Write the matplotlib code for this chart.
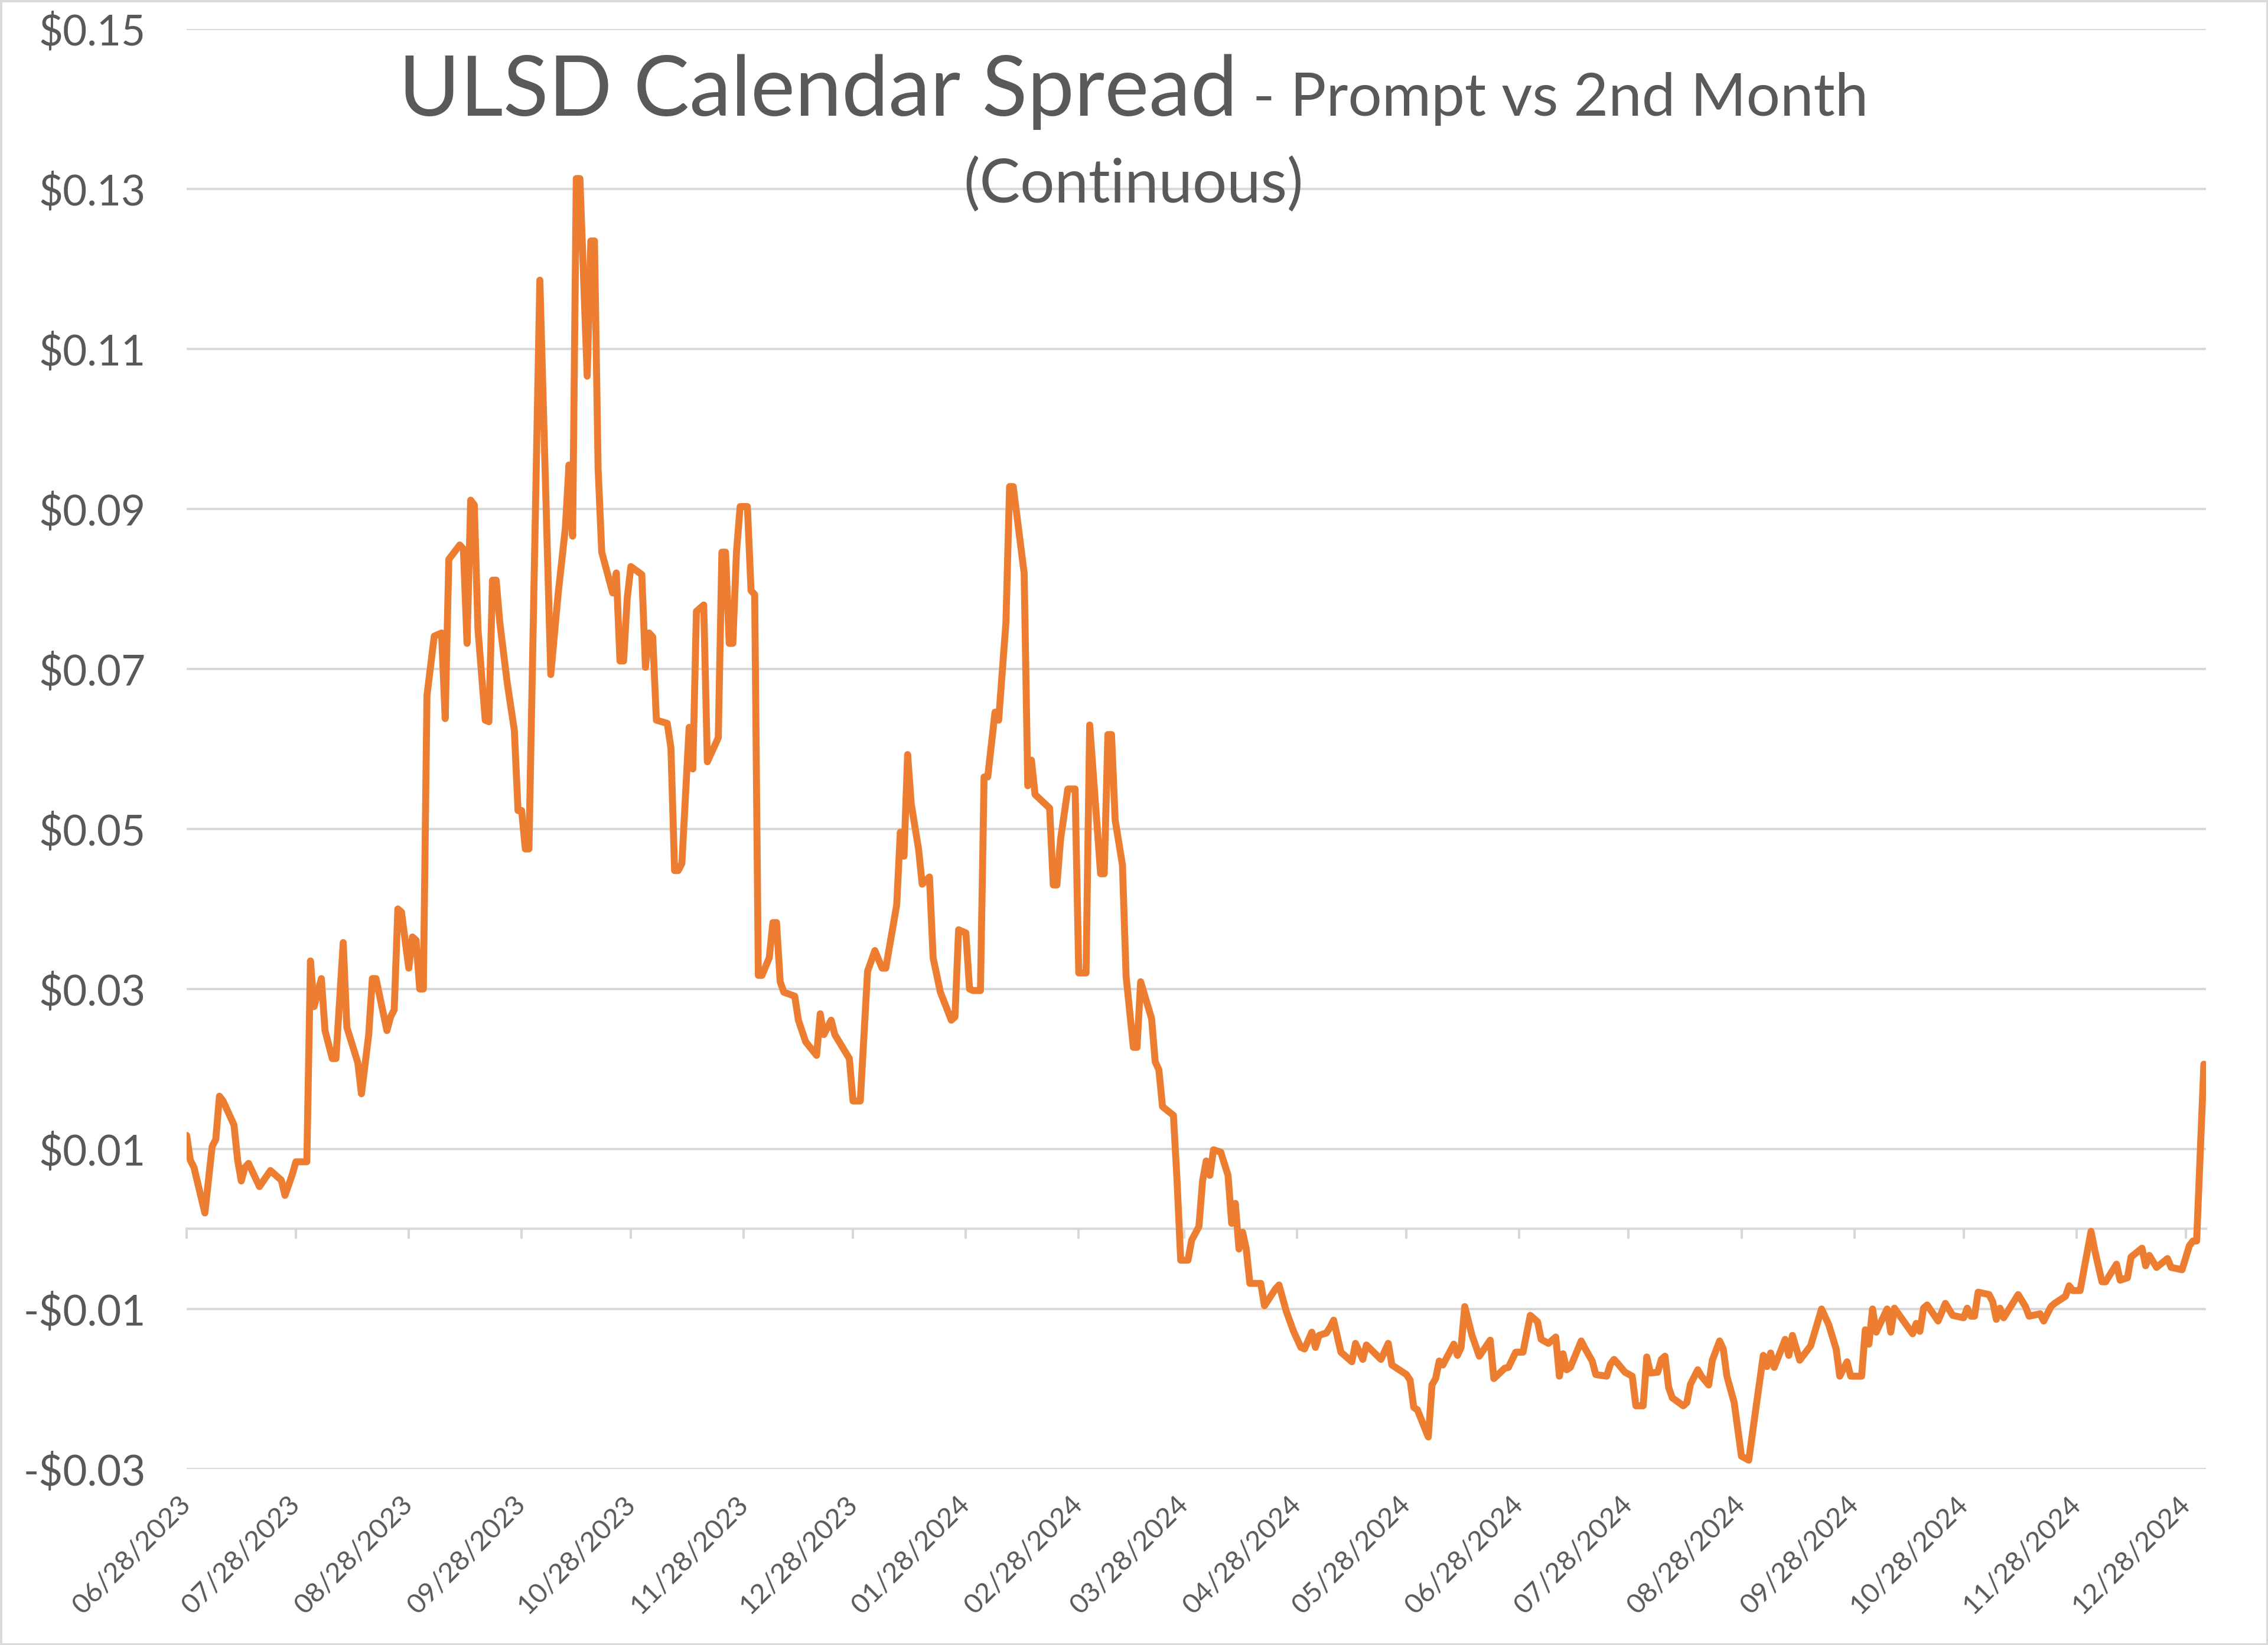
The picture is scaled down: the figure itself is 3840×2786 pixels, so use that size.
import numpy as np
import pandas as pd
import matplotlib
matplotlib.use("Agg")
import matplotlib.pyplot as plt
import matplotlib.dates as mdates
from matplotlib.ticker import FuncFormatter

plt.rcParams['font.family'] = ['Lato', 'DejaVu Sans']

# days after 06/28/2023
day_offset = [
    0, 1, 2, 5, 7, 8, 9, 10, 13, 14,
    15, 16, 17, 20, 23, 26, 27, 29, 30, 33,
    34, 35, 37, 38, 40, 41, 43, 44, 47, 48,
    50, 51, 52, 55, 56, 57, 58, 59, 61, 62,
    63, 64, 65, 66, 68, 70, 71, 72, 75, 76,
    77, 78, 79, 80, 82, 83, 84, 85, 86, 88,
    90, 91, 92, 93, 94, 97, 100, 102, 104, 105,
    106, 107, 108, 110, 111, 112, 113, 114, 117, 118,
    119, 120, 121, 122, 125, 126, 127, 128, 129, 132,
    133, 134, 135, 136, 138, 139, 140, 142, 143, 146,
    147, 148, 149, 150, 151, 152, 154, 155, 156, 157,
    158, 160, 161, 162, 163, 164, 167, 168, 170, 173,
    174, 175, 177, 178, 182, 183, 185, 187, 189, 191,
    192, 195, 196, 197, 198, 199, 201, 202, 204, 205,
    207, 210, 211, 212, 214, 215, 216, 218, 219, 220,
    222, 223, 225, 226, 227, 230, 231, 232, 233, 237,
    238, 239, 240, 242, 244, 245, 247, 248, 251, 252,
    253, 254, 255, 257, 258, 260, 261, 262, 265, 266,
    267, 268, 271, 272, 273, 275, 276, 278, 279, 280,
    281, 282, 284, 286, 287, 288, 289, 290, 291, 292,
    295, 296, 299, 300, 302, 304, 306, 307, 309, 310,
    311, 313, 314, 315, 317, 320, 321, 323, 324, 328,
    330, 331, 335, 336, 337, 338, 341, 342, 343, 344,
    345, 348, 349, 350, 351, 353, 355, 358, 359, 362,
    363, 365, 367, 369, 371, 372, 374, 376, 377, 378,
    379, 380, 383, 384, 386, 387, 390, 391, 392, 393,
    395, 397, 398, 400, 401, 402, 404, 405, 406, 407,
    408, 411, 412, 413, 415, 416, 418, 419, 421, 422,
    423, 425, 427, 429, 431, 433, 434, 435, 436, 439,
    440, 441, 443, 446, 449, 451, 453, 454, 456, 457,
    460, 461, 462, 463, 464, 467, 468, 469, 474, 475,
    476, 477, 478, 481, 483, 485, 488, 489, 490, 491,
    492, 495, 496, 497, 498, 499, 503, 505, 506, 509,
    510, 512, 513, 516, 517, 518, 520, 523, 524, 526,
    527, 530, 531, 533, 534, 537, 538, 539, 541, 544,
    545, 548, 550, 551, 552, 554,
]

spread = [
    0.0117, 0.0086, 0.0077, 0.0020, 0.0103, 0.0112, 0.0166, 0.0160, 0.0130, 0.0086,
    0.0060, 0.0077, 0.0082, 0.0053, 0.0073, 0.0061, 0.0042, 0.0068, 0.0084, 0.0084,
    0.0335, 0.0278, 0.0313, 0.0248, 0.0213, 0.0213, 0.0358, 0.0252, 0.0208, 0.0169,
    0.0243, 0.0313, 0.0313, 0.0248, 0.0265, 0.0274, 0.0400, 0.0396, 0.0326, 0.0365,
    0.0361, 0.0300, 0.0300, 0.0667, 0.0741, 0.0745, 0.0638, 0.0837, 0.0855, 0.0850,
    0.0732, 0.0911, 0.0905, 0.0750, 0.0636, 0.0634, 0.0811, 0.0811, 0.0758, 0.0684,
    0.0623, 0.0523, 0.0523, 0.0475, 0.0475, 0.1186, 0.0693, 0.0793, 0.0876, 0.0955,
    0.0866, 0.1313, 0.1313, 0.1066, 0.1235, 0.1235, 0.0950, 0.0846, 0.0795, 0.0820,
    0.0710, 0.0710, 0.0789, 0.0828, 0.0818, 0.0702, 0.0745, 0.0740, 0.0636, 0.0632,
    0.0601, 0.0448, 0.0448, 0.0457, 0.0627, 0.0575, 0.0772, 0.0780, 0.0584, 0.0614,
    0.0846, 0.0846, 0.0732, 0.0732, 0.0846, 0.0903, 0.0903, 0.0798, 0.0793, 0.0317,
    0.0317, 0.0339, 0.0383, 0.0383, 0.0309, 0.0296, 0.0291, 0.0261, 0.0234, 0.0217,
    0.0269, 0.0243, 0.0261, 0.0243, 0.0213, 0.0160, 0.0160, 0.0322, 0.0348, 0.0326,
    0.0326, 0.0405, 0.0496, 0.0466, 0.0593, 0.0531, 0.0475, 0.0431, 0.0440, 0.0339,
    0.0296, 0.0261, 0.0265, 0.0374, 0.0370, 0.0300, 0.0298, 0.0298, 0.0565, 0.0565,
    0.0646, 0.0636, 0.0758, 0.0928, 0.0928, 0.0820, 0.0554, 0.0586, 0.0543, 0.0526,
    0.0430, 0.0430, 0.0487, 0.0550, 0.0550, 0.0320, 0.0320, 0.0630, 0.0444, 0.0444,
    0.0618, 0.0618, 0.0511, 0.0455, 0.0316, 0.0227, 0.0227, 0.0309, 0.0263, 0.0209,
    0.0199, 0.0153, 0.0142, 0.0060, -0.0039, -0.0039, -0.0014, 0.0003, 0.0060, 0.0085,
    0.0067, 0.0099, 0.0096, 0.0067, 0.0007, 0.0032, -0.0025, -0.0004, -0.0025, -0.0068,
    -0.0068, -0.0096, -0.0075, -0.0070, -0.0103, -0.0128, -0.0148, -0.0150, -0.0129, -0.0148,
    -0.0133, -0.0130, -0.0123, -0.0114, -0.0154, -0.0166, -0.0143, -0.0163, -0.0145, -0.0163,
    -0.0143, -0.0170, -0.0182, -0.0189, -0.0223, -0.0226, -0.0260, -0.0195, -0.0187, -0.0165,
    -0.0170, -0.0144, -0.0158, -0.0148, -0.0097, -0.0133, -0.0159, -0.0139, -0.0187, -0.0174,
    -0.0173, -0.0154, -0.0154, -0.0108, -0.0116, -0.0138, -0.0143, -0.0135, -0.0184, -0.0156,
    -0.0176, -0.0173, -0.0140, -0.0149, -0.0165, -0.0182, -0.0184, -0.0169, -0.0163, -0.0168,
    -0.0179, -0.0184, -0.0221, -0.0221, -0.0160, -0.0180, -0.0179, -0.0163, -0.0159, -0.0198,
    -0.0211, -0.0221, -0.0217, -0.0194, -0.0176, -0.0184, -0.0195, -0.0164, -0.0140, -0.0150,
    -0.0184, -0.0217, -0.0284, -0.0289, -0.0223, -0.0158, -0.0172, -0.0155, -0.0173, -0.0138,
    -0.0158, -0.0133, -0.0164, -0.0146, -0.0100, -0.0120, -0.0150, -0.0184, -0.0166, -0.0184,
    -0.0184, -0.0126, -0.0144, -0.0100, -0.0129, -0.0100, -0.0129, -0.0099, -0.0131, -0.0118,
    -0.0128, -0.0099, -0.0095, -0.0115, -0.0093, -0.0108, -0.0111, -0.0099, -0.0109, -0.0109,
    -0.0079, -0.0082, -0.0091, -0.0113, -0.0099, -0.0111, -0.0082, -0.0097, -0.0109, -0.0106,
    -0.0115, -0.0097, -0.0093, -0.0084, -0.0071, -0.0077, -0.0077, -0.0003, -0.0026, -0.0066,
    -0.0066, -0.0044, -0.0064, -0.0061, -0.0035, -0.0024, -0.0046, -0.0033, -0.0048, -0.0037,
    -0.0048, -0.0051, -0.0021, -0.0015, -0.0015, 0.0206,
]

y_ticks = [-0.03, -0.01, 0.01, 0.03, 0.05, 0.07, 0.09, 0.11, 0.13, 0.15]
tick_dates = pd.date_range('2023-06-28', '2024-12-28', freq=pd.DateOffset(months=1))

assert len(day_offset) == len(spread)

start = pd.Timestamp('2023-06-28')
dates = start + pd.to_timedelta(day_offset, unit='D')
x = mdates.date2num(dates.to_pydatetime())
tick_x = mdates.date2num(tick_dates.to_pydatetime())

grey = '#D9D9D9'
text_col = '#595959'

fig = plt.figure(figsize=(38.4, 27.86), dpi=100)
fig.patch.set_edgecolor(grey)
fig.patch.set_linewidth(5)
ax = fig.add_axes([0.0823, 0.107, 0.8904, 0.8754])

ax.plot(x, spread, color='#ED7D31', lw=8.5, solid_joinstyle='round',
        solid_capstyle='round', zorder=3)

ax.set_ylim(-0.03, 0.15)
ax.set_xlim(x[0], x[-1] + 0.6)
ax.set_yticks(y_ticks)
ax.yaxis.set_major_formatter(FuncFormatter(
    lambda v, p: f"-${abs(v):.2f}" if v < 0 else f"${v:.2f}"))
ax.yaxis.grid(True, color=grey, lw=2.9)
ax.set_axisbelow(True)

for s in ['left', 'right', 'top']:
    ax.spines[s].set_visible(False)
ax.spines['bottom'].set_position(('data', 0))
ax.spines['bottom'].set_color(grey)
ax.spines['bottom'].set_linewidth(2.9)

ax.tick_params(axis='y', length=0, pad=50, labelsize=51, labelcolor=text_col)
ax.set_xticks(tick_x)
ax.tick_params(axis='x', direction='out', length=12, width=2.9, color=grey,
               labelbottom=False)

# date labels sit at the bottom of the plot, not on the zero line
sec = ax.secondary_xaxis('bottom')
sec.set_xticks(tick_x, labels=[d.strftime('%m/%d/%Y') for d in tick_dates])
sec.spines['bottom'].set_visible(False)
sec.tick_params(length=0, pad=38, labelsize=34, labelcolor=text_col)
for lbl in sec.get_xticklabels():
    lbl.set_rotation(45)
    lbl.set_ha('right')
    lbl.set_va('center')
    lbl.set_rotation_mode('anchor')

# title: big part + smaller part on one line, centred as a whole
W = 3840
t1 = fig.text(0, 0.9296, 'ULSD Calendar Spread', fontsize=102, color=text_col,
              ha='left', va='baseline')
t2 = fig.text(0, 0.9296, ' - Prompt vs 2nd Month', fontsize=73, color=text_col,
              ha='left', va='baseline')
fig.canvas.draw()
r = fig.canvas.get_renderer()
w1 = t1.get_window_extent(r).width
w2 = t2.get_window_extent(r).width
x0 = 1919 - (w1 + w2) / 2
t1.set_x(x0 / W)
t2.set_x((x0 + w1) / W)
fig.text(0.4997, 0.877, '(Continuous)', fontsize=74, color=text_col,
         ha='center', va='baseline')

fig.savefig('out.png', dpi=100, facecolor='white', edgecolor=fig.get_edgecolor())
